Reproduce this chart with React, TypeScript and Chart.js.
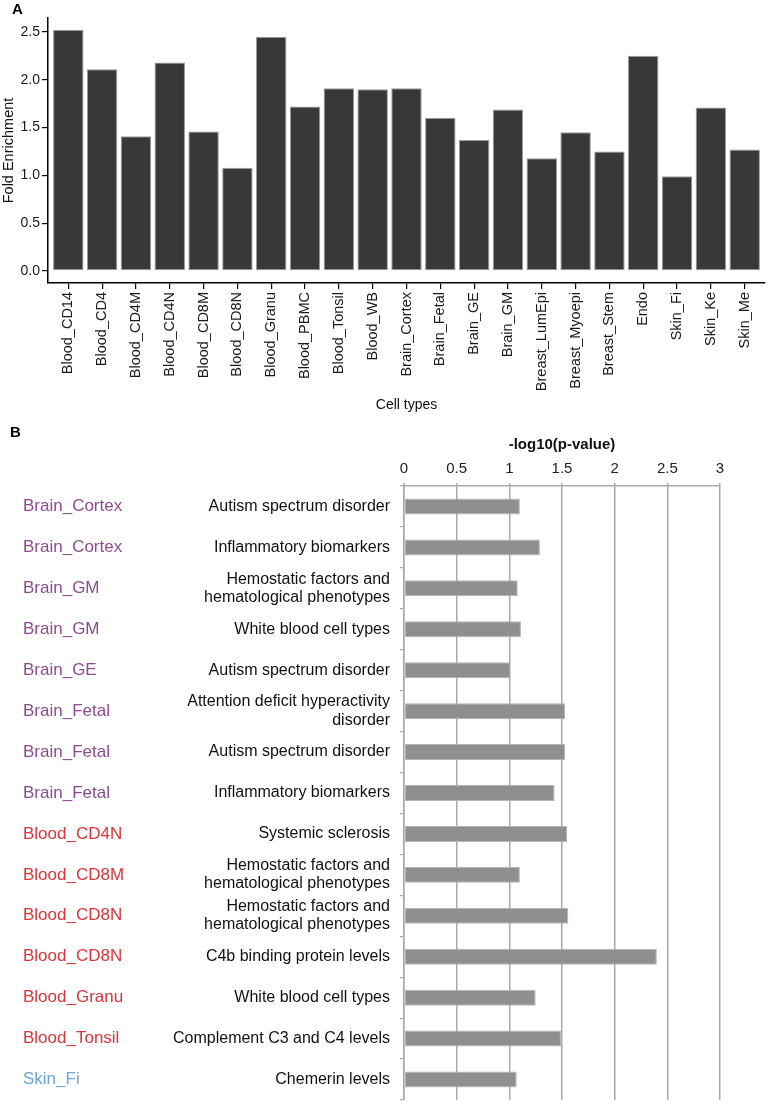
import React, { useEffect, useRef } from "react";
import { Chart, registerables } from "chart.js";

Chart.register(...registerables);

const FONT = "'Liberation Sans', Arial, Helvetica, sans-serif";
Chart.defaults.font.family = FONT;

// ---------- Panel A data ----------
const cellTypes = [
  "Blood_CD14", "Blood_CD4", "Blood_CD4M", "Blood_CD4N", "Blood_CD8M", "Blood_CD8N",
  "Blood_Granu", "Blood_PBMC", "Blood_Tonsil", "Blood_WB", "Brain_Cortex", "Brain_Fetal",
  "Brain_GE", "Brain_GM", "Breast_LumEpi", "Breast_Myoepi", "Breast_Stem", "Endo",
  "Skin_Fi", "Skin_Ke", "Skin_Me",
];
const foldEnrichment = [
  2.52, 2.11, 1.41, 2.18, 1.46, 1.08, 2.45, 1.72, 1.91, 1.90, 1.91, 1.60,
  1.37, 1.69, 1.18, 1.45, 1.25, 2.25, 0.99, 1.71, 1.27,
];
const yTicksA = [0, 0.5, 1.0, 1.5, 2.0, 2.5];

// ---------- Panel B data ----------
const traitCells = [
  "Brain_Cortex", "Brain_Cortex", "Brain_GM", "Brain_GM", "Brain_GE", "Brain_Fetal",
  "Brain_Fetal", "Brain_Fetal", "Blood_CD4N", "Blood_CD8M", "Blood_CD8N", "Blood_CD8N",
  "Blood_Granu", "Blood_Tonsil", "Skin_Fi",
];
const traitNames: (string | string[])[] = [
  "Autism spectrum disorder",
  "Inflammatory biomarkers",
  ["Hemostatic factors and", "hematological phenotypes"],
  "White blood cell types",
  "Autism spectrum disorder",
  ["Attention deficit hyperactivity", "disorder"],
  "Autism spectrum disorder",
  "Inflammatory biomarkers",
  "Systemic sclerosis",
  ["Hemostatic factors and", "hematological phenotypes"],
  ["Hemostatic factors and", "hematological phenotypes"],
  "C4b binding protein levels",
  "White blood cell types",
  "Complement C3 and C4 levels",
  "Chemerin levels",
];
const traitValues = [
  1.10, 1.29, 1.08, 1.11, 1.01, 1.53, 1.53, 1.43, 1.55, 1.10, 1.56, 2.40, 1.25, 1.49, 1.07,
];
const xTicksB = [0, 0.5, 1, 1.5, 2, 2.5, 3];

const tissueColors: Record<string, string> = {
  Brain: "#8b4c8f",
  Blood: "#d8363b",
  Skin: "#6aa6da",
};
const cellColor = (name: string) => tissueColors[name.split("_")[0]] || "#000";

const panelLetter = (letter: string, x: number, y: number) => ({
  id: "panelLetter" + letter,
  afterDraw(chart: any) {
    const ctx = chart.ctx;
    ctx.save();
    ctx.font = `bold 15px ${FONT}`;
    ctx.fillStyle = "#000";
    ctx.textBaseline = "alphabetic";
    ctx.textAlign = "left";
    ctx.fillText(letter, x, y);
    ctx.restore();
  },
});

function configA(): any {
  return {
    type: "bar",
    data: {
      datasets: [
        {
          data: cellTypes.map((_, i) => ({ x: i, y: foldEnrichment[i] })),
          backgroundColor: "#383838",
          borderColor: "#9a9a9a",
          borderWidth: 1,
          borderSkipped: false,
          categoryPercentage: 1,
          barPercentage: 0.9,
        },
      ],
    },
    options: {
      animation: false,
      responsive: false,
      maintainAspectRatio: false,
      layout: { padding: { left: 0, right: 3, top: 18, bottom: 0 } },
      plugins: { legend: { display: false }, tooltip: { enabled: false } },
      scales: {
        x: {
          type: "linear",
          min: -0.6,
          max: 20.6,
          bounds: "data",
          offset: false,
          grid: {
            display: true,
            drawOnChartArea: false,
            drawTicks: true,
            tickLength: 6,
            color: "#000",
            lineWidth: 1.2,
            offset: false,
          },
          border: { display: true, color: "#000", width: 1.5 },
          afterBuildTicks: (s: any) => {
            s.ticks = cellTypes.map((_, i) => ({ value: i }));
          },
          ticks: {
            autoSkip: false,
            minRotation: 90,
            maxRotation: 90,
            padding: 3,
            color: "#1a1a1a",
            font: { size: 14.5 },
            callback: (v: any) => cellTypes[Math.round(Number(v))],
          },
          title: {
            display: true,
            text: "Cell types",
            color: "#111",
            font: { size: 14 },
            padding: { top: 0, bottom: 0 },
          },
          afterFit: (s: any) => {
            s.height = 131;
            s.paddingLeft = 0;
            s.paddingRight = 0;
          },
        },
        y: {
          type: "linear",
          min: -0.126,
          max: 2.646,
          bounds: "data",
          grid: {
            display: true,
            drawOnChartArea: false,
            drawTicks: true,
            tickLength: 6,
            color: "#000",
            lineWidth: 1.2,
          },
          border: { display: true, color: "#000", width: 1.5 },
          afterBuildTicks: (s: any) => {
            s.ticks = yTicksA.map((v) => ({ value: v }));
          },
          ticks: {
            padding: 2,
            color: "#1a1a1a",
            font: { size: 14 },
            callback: (v: any) => Number(v).toFixed(1),
          },
          title: {
            display: true,
            text: "Fold Enrichment",
            color: "#111",
            font: { size: 14.5 },
            padding: { top: 0, bottom: 0 },
          },
          afterFit: (s: any) => {
            s.width = 48;
            s.paddingTop = 0;
            s.paddingBottom = 0;
          },
        },
      },
    },
    plugins: [panelLetter("A", 12, 14)],
  };
}

function configB(): any {
  return {
    type: "bar",
    data: {
      labels: traitNames,
      datasets: [
        {
          data: traitValues,
          backgroundColor: "#8f8f8f",
          borderColor: "#b4b4b4",
          borderWidth: 1,
          borderSkipped: false,
          categoryPercentage: 1,
          barPercentage: 0.39,
        },
      ],
    },
    options: {
      indexAxis: "y",
      animation: false,
      responsive: false,
      maintainAspectRatio: false,
      layout: { padding: { left: 23, right: 48, top: 0, bottom: 4 } },
      plugins: { legend: { display: false }, tooltip: { enabled: false } },
      scales: {
        x: {
          type: "linear",
          position: "top",
          min: 0,
          max: 3,
          bounds: "data",
          afterBuildTicks: (s: any) => {
            s.ticks = xTicksB.map((v) => ({ value: v }));
          },
          grid: { color: "#a9a9a9", lineWidth: 1.5, drawTicks: true, tickLength: 3 },
          border: { display: true, color: "#a9a9a9", width: 1.5 },
          ticks: {
            padding: 5.5,
            color: "#222",
            font: { size: 15 },
            callback: (v: any) => String(v),
          },
          title: {
            display: true,
            text: "-log10(p-value)",
            color: "#111",
            font: { size: 15, weight: "bold" },
            padding: { top: 11, bottom: 0 },
          },
          afterFit: (s: any) => {
            s.height = 61;
            s.paddingLeft = 0;
            s.paddingRight = 0;
          },
        },
        y: {
          type: "category",
          position: "left",
          weight: 0,
          offset: true,
          grid: {
            offset: true,
            drawOnChartArea: false,
            drawTicks: true,
            tickLength: 4,
            color: "#a9a9a9",
            lineWidth: 1.2,
          },
          border: { display: true, color: "#a9a9a9", width: 1.5 },
          ticks: {
            autoSkip: false,
            padding: 10,
            color: "#111",
            font: { size: 16, lineHeight: 1.15 },
          },
          afterFit: (s: any) => {
            s.width = 250;
            s.paddingTop = 0;
            s.paddingBottom = 0;
          },
        },
        y2: {
          type: "category",
          position: "left",
          weight: 1,
          offset: true,
          labels: traitCells,
          grid: { display: false },
          border: { display: false },
          ticks: {
            autoSkip: false,
            crossAlign: "far",
            padding: 0,
            font: { size: 17 },
            color: (ctx: any) => cellColor(traitCells[ctx.index] || ""),
          },
          afterFit: (s: any) => {
            s.width = 131;
            s.paddingTop = 0;
            s.paddingBottom = 0;
          },
        },
      },
    },
    plugins: [panelLetter("B", 10, 12)],
  };
}

function ChartCanvas(props: { make: () => any; left: number; top: number; width: number; height: number }) {
  const ref = useRef<HTMLCanvasElement | null>(null);
  useEffect(() => {
    if (!ref.current) return;
    const chart = new Chart(ref.current, props.make());
    return () => chart.destroy();
  }, []);
  return (
    <canvas
      ref={ref}
      width={props.width}
      height={props.height}
      style={{
        position: "absolute",
        left: props.left,
        top: props.top,
        width: props.width + "px",
        height: props.height + "px",
      }}
    />
  );
}

export default function App() {
  return (
    <div
      style={{
        position: "absolute",
        left: 0,
        top: 0,
        width: 768,
        height: 1104,
        background: "#fff",
        overflow: "hidden",
      }}
    >
      <ChartCanvas make={configA} left={0} top={0} width={768} height={414} />
      <ChartCanvas make={configB} left={0} top={425} width={768} height={679} />
    </div>
  );
}
